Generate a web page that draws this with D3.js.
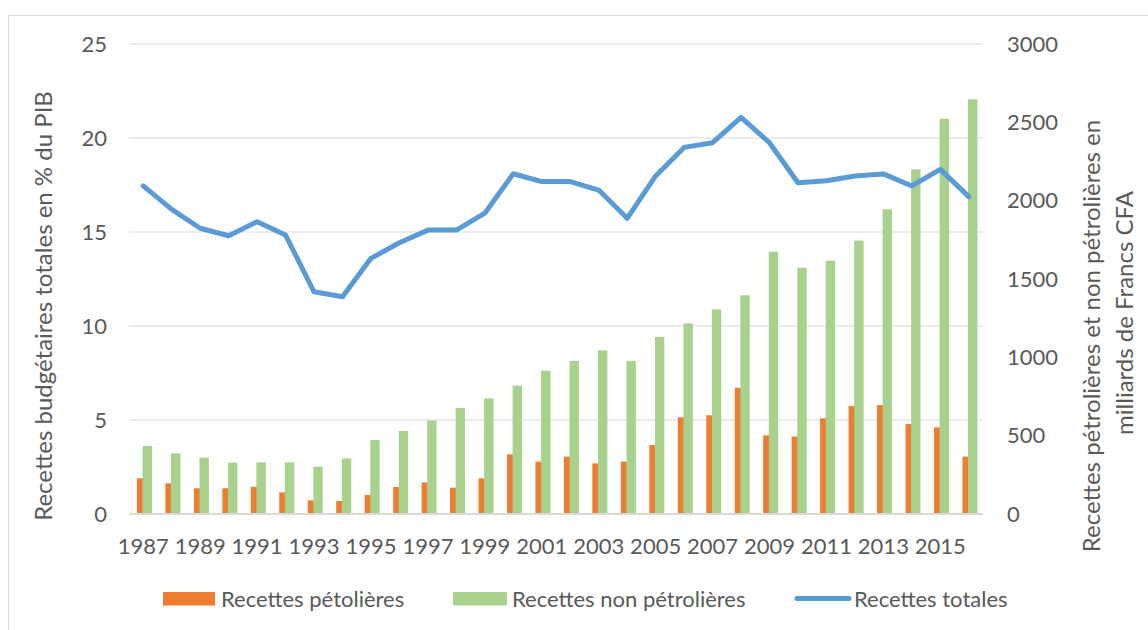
<!DOCTYPE html>
<html>
<head>
<meta charset="utf-8">
<script src="https://cdn.jsdelivr.net/npm/d3@7"></script>
<style>
  body { margin: 0; background: #fff; }
  svg text { font-family: Lato, "Open Sans", sans-serif; fill: #595959; }
</style>
</head>
<body>
<div class="graph"></div>
<script>
// data
const years = d3.range(1987, 2017);
const petrol = [228, 196, 164, 164, 174, 138, 87, 83, 121, 172, 202, 168, 228, 381, 334,
    366, 323, 334, 440, 617, 630, 806, 502, 494, 611, 689, 696, 574, 553, 366];
const nonPetrol = [434, 387, 360, 328, 330, 330, 302, 355, 472, 530, 596, 677, 738, 819, 915,
    977, 1045, 977, 1130, 1217, 1306, 1396, 1674, 1572, 1617, 1745, 1945, 2200, 2523, 2647];
const totalPct = [17.45, 16.2, 15.2, 14.8, 15.55, 14.84, 11.82, 11.56, 13.6, 14.43, 15.1, 15.1, 16.0, 18.1, 17.68,
    17.68, 17.23, 15.73, 17.98, 19.5, 19.75, 21.1, 19.75, 17.62, 17.73, 17.98, 18.09, 17.45, 18.33, 16.88];
const leftTicks = [0, 5, 10, 15, 20, 25];
const rightTicks = [0, 500, 1000, 1500, 2000, 2500, 3000];
const xTickYears = years.filter(y => (y - 1987) % 2 === 0);
const legendNames = ['Recettes pétolières', 'Recettes non pétrolières', 'Recettes totales'];
const leftTitle = 'Recettes budgétaires totales en % du PIB';
const rightTitle = ['Recettes pétrolières et non pétrolières en', 'milliards de Francs CFA'];

const colors = { petrol: '#ED7D31', nonPetrol: '#A9D18E', total: '#5B9BD5', grid: '#D9D9D9' };

const dim = { w: 1148, h: 630, left: 129, right: 983, top: 44, bottom: 514 };

const svg = d3.select('.graph')
    .append('svg')
    .attr('width', dim.w)
    .attr('height', dim.h);

// chart frame
svg.append('rect')
    .attr('x', 8.5).attr('y', 15.5)
    .attr('width', dim.w).attr('height', dim.h)
    .attr('fill', 'none')
    .attr('stroke', colors.grid);

const xScale = d3.scaleBand()
    .domain(years)
    .range([dim.left, dim.right]);
const bw = xScale.bandwidth();

const yLeft = d3.scaleLinear().domain([0, 25]).range([dim.bottom, dim.top]);
const yRight = d3.scaleLinear().domain([0, 3000]).range([dim.bottom, dim.top]);

// gridlines
svg.append('g')
    .selectAll('line')
    .data(leftTicks.slice(1))
    .enter()
    .append('line')
    .attr('x1', dim.left).attr('x2', dim.right)
    .attr('y1', d => yLeft(d)).attr('y2', d => yLeft(d))
    .attr('stroke', colors.grid)
    .attr('stroke-width', 1);

// bars (orange under, green overlapping)
const barW = 9.4;
svg.append('g')
    .selectAll('rect')
    .data(years)
    .enter()
    .append('rect')
    .attr('x', (d) => xScale(d) + bw / 2 - 6.3)
    .attr('y', (d, i) => yRight(petrol[i]))
    .attr('width', barW)
    .attr('height', (d, i) => yRight(0) - yRight(petrol[i]))
    .attr('fill', colors.petrol);

svg.append('g')
    .selectAll('rect')
    .data(years)
    .enter()
    .append('rect')
    .attr('x', (d) => xScale(d) + bw / 2 - 0.7)
    .attr('y', (d, i) => yRight(nonPetrol[i]))
    .attr('width', barW)
    .attr('height', (d, i) => yRight(0) - yRight(nonPetrol[i]))
    .attr('fill', colors.nonPetrol);

// baseline
svg.append('line')
    .attr('x1', dim.left).attr('x2', dim.right)
    .attr('y1', yLeft(0)).attr('y2', yLeft(0))
    .attr('stroke', colors.grid)
    .attr('stroke-width', 2);

// total line
const line = d3.line()
    .x((d, i) => xScale(years[i]) + bw / 2)
    .y(d => yLeft(d));

svg.append('path')
    .datum(totalPct)
    .attr('d', line)
    .attr('fill', 'none')
    .attr('stroke', colors.total)
    .attr('stroke-width', 5)
    .attr('stroke-linejoin', 'round')
    .attr('stroke-linecap', 'round');

// axes
const leftAxis = d3.axisLeft(yLeft).tickValues(leftTicks).tickSize(0).tickPadding(22);
const gL = svg.append('g').attr('transform', `translate(${dim.left},0)`).call(leftAxis);

const rightAxis = d3.axisRight(yRight).tickValues(rightTicks).tickFormat(d3.format('d')).tickSize(0).tickPadding(24);
const gR = svg.append('g').attr('transform', `translate(${dim.right},0)`).call(rightAxis);

const xAxis = d3.axisBottom(xScale).tickValues(xTickYears).tickSize(0).tickPadding(24);
const gX = svg.append('g').attr('transform', `translate(0,${dim.bottom})`).call(xAxis);

[gL, gR, gX].forEach(g => {
    g.select('.domain').remove();
    g.selectAll('text')
        .style('font-family', 'Lato, sans-serif')
        .style('font-size', '22px')
        .attr('fill', '#595959');
});

// axis titles
svg.append('text')
    .attr('transform', 'translate(52,306) rotate(-90)')
    .attr('text-anchor', 'middle')
    .style('font-size', '24px')
    .text(leftTitle);

svg.append('text')
    .attr('transform', 'translate(1100,336) rotate(-90)')
    .attr('text-anchor', 'middle')
    .style('font-size', '24px')
    .text(rightTitle[0]);

svg.append('text')
    .attr('transform', 'translate(1133,313) rotate(-90)')
    .attr('text-anchor', 'middle')
    .style('font-size', '24px')
    .text(rightTitle[1]);

// legend
const legend = svg.append('g');
const legendX = [163, 453, 797];
legend.append('rect')
    .attr('x', legendX[0]).attr('y', 592).attr('width', 52).attr('height', 13.5)
    .attr('fill', colors.petrol);
legend.append('rect')
    .attr('x', legendX[1]).attr('y', 592).attr('width', 54).attr('height', 13.5)
    .attr('fill', colors.nonPetrol);
legend.append('line')
    .attr('x1', legendX[2]).attr('x2', legendX[2] + 52)
    .attr('y1', 598.5).attr('y2', 598.5)
    .attr('stroke', colors.total)
    .attr('stroke-width', 5)
    .attr('stroke-linecap', 'round');

legend.selectAll('text')
    .data(legendNames)
    .enter()
    .append('text')
    .attr('x', (d, i) => [221, 512, 854][i])
    .attr('y', 607)
    .style('font-size', '22px')
    .text(d => d);
</script>
</body>
</html>
